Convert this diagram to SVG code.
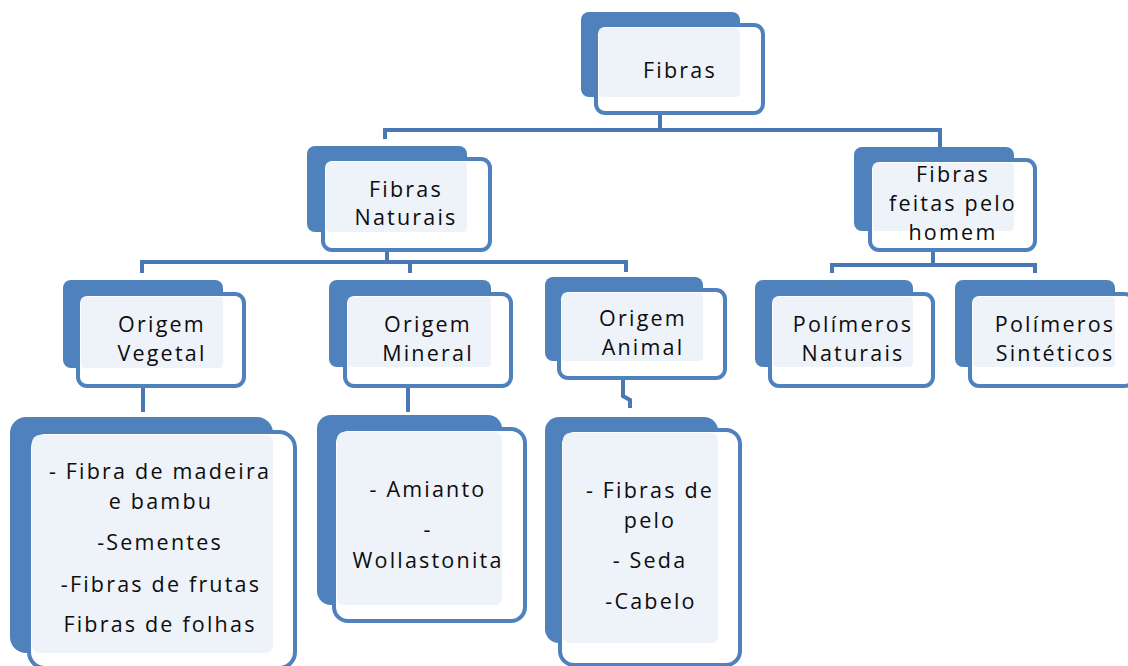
<svg xmlns="http://www.w3.org/2000/svg" width="1128" height="666" viewBox="0 0 1128 666">
  <style>
    .back { fill: #4f81bd; }
    .front { fill: #ffffff; stroke: #4f81bd; stroke-width: 4; }
    .pane { fill: #eef2f9; }
    .lbl { font-family: "Open Sans", "Liberation Sans", sans-serif; font-size: 21.5px; letter-spacing: 2.2px; fill: #0d0d0d; text-anchor: middle; }
    .wire { fill: none; stroke: #4a78b4; stroke-width: 4; }
  </style>

  <rect width="1128" height="666" fill="#ffffff"/>

  <!-- connectors -->
  <g id="connectors">
    <path class="wire" d="M660 115 V130 M385 139 V130 H940 V148"/>
    <path class="wire" d="M387 252 V262 M142 273 V262 H626 V272 M410 262 V273"/>
    <path class="wire" d="M933 252 V265 M832 273 V265 H1035 V273"/>
    <path class="wire" d="M143 388 V412"/>
    <path class="wire" d="M408 388 V412"/>
    <path class="wire" d="M623 380 V396 L630 400 V408"/>
  </g>

  <!-- root -->
  <g id="fibras">
    <rect class="back" x="581" y="12" width="159" height="85" rx="8"/>
    <rect class="front" x="596" y="25" width="167" height="88" rx="9"/>
    <rect class="pane" x="599" y="28" width="141" height="69" rx="4"/>
    <text class="lbl" x="680" y="78">Fibras</text>
  </g>

  <g id="fibras-naturais">
    <rect class="back" x="307" y="146" width="160" height="86" rx="8"/>
    <rect class="front" x="323" y="159" width="167" height="91" rx="9"/>
    <rect class="pane" x="326" y="162" width="141" height="70" rx="4"/>
    <text class="lbl" x="406" y="197">Fibras</text>
    <text class="lbl" x="406" y="225">Naturais</text>
  </g>

  <g id="fibras-feitas">
    <rect class="back" x="854" y="147" width="160" height="84" rx="8"/>
    <rect class="front" x="870" y="160" width="165" height="90" rx="9"/>
    <rect class="pane" x="873" y="163" width="141" height="68" rx="4"/>
    <text class="lbl" x="953" y="182">Fibras</text>
    <text class="lbl" x="953" y="211">feitas pelo</text>
    <text class="lbl" x="953" y="240">homem</text>
  </g>

  <g id="origem-vegetal">
    <rect class="back" x="63" y="280" width="160" height="88" rx="8"/>
    <rect class="front" x="78" y="294" width="166" height="92" rx="9"/>
    <rect class="pane" x="81" y="297" width="142" height="71" rx="4"/>
    <text class="lbl" x="162" y="332">Origem</text>
    <text class="lbl" x="162" y="361">Vegetal</text>
  </g>

  <g id="origem-mineral">
    <rect class="back" x="329" y="280" width="162" height="87" rx="8"/>
    <rect class="front" x="345" y="294" width="166" height="92" rx="9"/>
    <rect class="pane" x="348" y="297" width="143" height="70" rx="4"/>
    <text class="lbl" x="428" y="332">Origem</text>
    <text class="lbl" x="428" y="361">Mineral</text>
  </g>

  <g id="origem-animal">
    <rect class="back" x="545" y="277" width="158" height="84" rx="8"/>
    <rect class="front" x="559" y="290" width="166" height="88" rx="9"/>
    <rect class="pane" x="562" y="293" width="141" height="68" rx="4"/>
    <text class="lbl" x="643" y="326">Origem</text>
    <text class="lbl" x="643" y="355">Animal</text>
  </g>

  <g id="polimeros-naturais">
    <rect class="back" x="755" y="280" width="158" height="87" rx="8"/>
    <rect class="front" x="770" y="294" width="163" height="92" rx="9"/>
    <rect class="pane" x="773" y="297" width="140" height="70" rx="4"/>
    <text class="lbl" x="853" y="332">Polímeros</text>
    <text class="lbl" x="853" y="361">Naturais</text>
  </g>

  <g id="polimeros-sinteticos">
    <rect class="back" x="955" y="280" width="160" height="87" rx="8"/>
    <rect class="front" x="970" y="294" width="164" height="92" rx="9"/>
    <rect class="pane" x="973" y="297" width="142" height="70" rx="4"/>
    <text class="lbl" x="1055" y="332">Polímeros</text>
    <text class="lbl" x="1055" y="361">Sintéticos</text>
  </g>

  <!-- detail lists -->
  <g id="lista-vegetal">
    <rect class="back" x="10" y="417" width="263" height="236" rx="16"/>
    <rect class="front" x="29" y="432" width="266" height="236" rx="16"/>
    <rect class="pane" x="32" y="435" width="241" height="218" rx="8"/>
    <text class="lbl" x="160" y="479">- Fibra de madeira</text>
    <text class="lbl" x="161" y="509">e bambu</text>
    <text class="lbl" x="160" y="550">-Sementes</text>
    <text class="lbl" x="161" y="592">-Fibras de frutas</text>
    <text class="lbl" x="160" y="632">Fibras de folhas</text>
  </g>

  <g id="lista-mineral">
    <rect class="back" x="317" y="415" width="185" height="190" rx="14"/>
    <rect class="front" x="334" y="429" width="191" height="192" rx="14"/>
    <rect class="pane" x="337" y="432" width="165" height="173" rx="7"/>
    <text class="lbl" x="428" y="497">- Amianto</text>
    <text class="lbl" x="428" y="537">-</text>
    <text class="lbl" x="428" y="568">Wollastonita</text>
  </g>

  <g id="lista-animal">
    <rect class="back" x="545" y="417" width="173" height="226" rx="14"/>
    <rect class="front" x="560" y="430" width="180" height="235" rx="14"/>
    <rect class="pane" x="563" y="433" width="155" height="210" rx="7"/>
    <text class="lbl" x="650" y="498">- Fibras de</text>
    <text class="lbl" x="650" y="528">pelo</text>
    <text class="lbl" x="650" y="568">- Seda</text>
    <text class="lbl" x="651" y="609">-Cabelo</text>
  </g>
</svg>
